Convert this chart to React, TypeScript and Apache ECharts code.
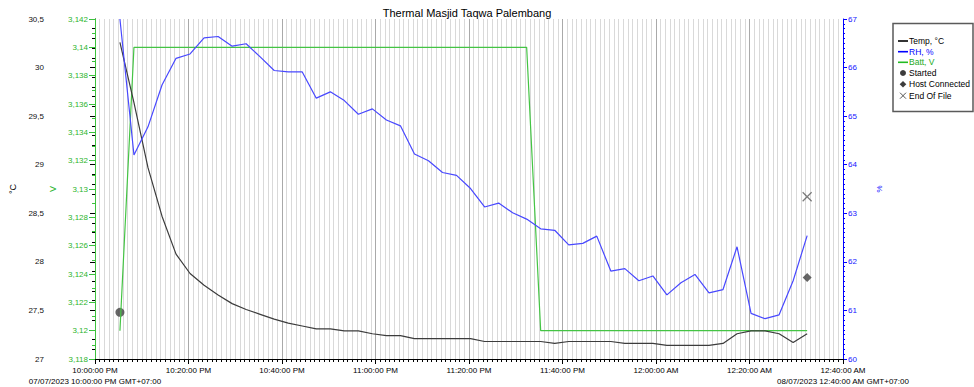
import React, { useEffect, useRef } from "react";
import * as echarts from "echarts";

const TITLE = "Thermal Masjid Taqwa Palembang";

// logging times (HH:MM:SS), 07/07/2023 22:00 -> 08/07/2023 00:40
const times = [
  "22:05:20", "22:08:20", "22:11:20", "22:14:20", "22:17:20", "22:20:20", "22:23:20", "22:26:20", "22:29:20", "22:32:20",
  "22:35:20", "22:38:20", "22:41:20", "22:44:20", "22:47:20", "22:50:20", "22:53:20", "22:56:20", "22:59:20", "23:02:20",
  "23:05:20", "23:08:20", "23:11:20", "23:14:20", "23:17:20", "23:20:20", "23:23:20", "23:26:20", "23:29:20", "23:32:20",
  "23:35:20", "23:38:20", "23:41:20", "23:44:20", "23:47:20", "23:50:20", "23:53:20", "23:56:20", "23:59:20", "00:02:20",
  "00:05:20", "00:08:20", "00:11:20", "00:14:20", "00:17:20", "00:20:20", "00:23:20", "00:26:20", "00:29:20", "00:32:20",
];

const tempC = [
  30.26, 29.64, 28.97, 28.47, 28.08, 27.88, 27.76, 27.66, 27.57, 27.51,
  27.46, 27.41, 27.37, 27.34, 27.31, 27.31, 27.29, 27.29, 27.26, 27.24,
  27.24, 27.21, 27.21, 27.21, 27.21, 27.21, 27.18, 27.18, 27.18, 27.18,
  27.18, 27.16, 27.18, 27.18, 27.18, 27.18, 27.16, 27.16, 27.16, 27.14,
  27.14, 27.14, 27.14, 27.16, 27.26, 27.29, 27.29, 27.26, 27.17, 27.26,
];

const rhPct = [
  67.0, 64.2, 64.78, 65.64, 66.19, 66.28, 66.61, 66.64, 66.44, 66.49,
  66.22, 65.94, 65.91, 65.91, 65.37, 65.5, 65.32, 65.04, 65.15, 64.92,
  64.8, 64.22, 64.08, 63.84, 63.78, 63.51, 63.13, 63.21, 63.01, 62.88,
  62.68, 62.65, 62.35, 62.38, 62.53, 61.81, 61.86, 61.61, 61.71, 61.32,
  61.57, 61.74, 61.36, 61.43, 62.31, 60.94, 60.83, 60.91, 61.61, 62.54,
];

const battV = [
  3.12, 3.14, 3.14, 3.14, 3.14, 3.14, 3.14, 3.14, 3.14, 3.14,
  3.14, 3.14, 3.14, 3.14, 3.14, 3.14, 3.14, 3.14, 3.14, 3.14,
  3.14, 3.14, 3.14, 3.14, 3.14, 3.14, 3.14, 3.14, 3.14, 3.14,
  3.12, 3.12, 3.12, 3.12, 3.12, 3.12, 3.12, 3.12, 3.12, 3.12,
  3.12, 3.12, 3.12, 3.12, 3.12, 3.12, 3.12, 3.12, 3.12, 3.12,
];

const eventNames = ["Started", "Host Connected", "End Of File"];
const eventTimes = ["22:05:20", "00:32:20", "00:32:20"];
const eventTemps = [27.48, 27.84, 28.67];

const xTickLabels = [
  "10:00:00 PM", "10:20:00 PM", "10:40:00 PM", "11:00:00 PM", "11:20:00 PM",
  "11:40:00 PM", "12:00:00 AM", "12:20:00 AM", "12:40:00 AM",
];
const startDateLabel = "07/07/2023 10:00:00 PM GMT+07:00";
const endDateLabel = "08/07/2023 12:40:00 AM GMT+07:00";

const legendLabels = ["Temp, °C", "RH, %", "Batt, V", "Started", "Host Connected", "End Of File"];

const FONT = "Liberation Sans, Arial, sans-serif";
const C_TEMP = "#3c3c3c";
const C_RH = "#4848ff";
const C_BATT = "#44c444";
const C_GREEN_TXT = "#2db52d";
const C_BLUE_TXT = "#1515ff";

function toMinutes(t: string): number {
  const [h, m, s] = t.split(":").map(Number);
  let v = h * 60 + m + s / 60 - 22 * 60;
  if (v < 0) v += 24 * 60;
  return v;
}

const comma = (v: number, d: number) => String(parseFloat(v.toFixed(d))).replace(".", ",");

export default function App() {
  const ref = useRef<HTMLDivElement>(null);
  useEffect(() => {
    if (!ref.current) return;
    const chart = echarts.init(ref.current, null, { renderer: "svg" });
    const xs = times.map(toMinutes);
    const legendRowY = [41, 51.7, 62.3, 73, 84.3, 95.7];
    const lx = 898;
    const tx = 909;
    const legendColors = ["#000000", "#0000ff", "#22aa22", "#000000", "#000000", "#000000"];
    const legendGraphics: any[] = [
      {
        type: "rect",
        shape: { x: 893, y: 23.5, width: 80, height: 88 },
        style: { fill: "#ffffff", stroke: "#5a5a5a", lineWidth: 1.5 },
      },
    ];
    [C_TEMP, "#0000ff", "#22bb22"].forEach((c, i) => {
      legendGraphics.push({
        type: "line",
        shape: { x1: lx, y1: legendRowY[i], x2: lx + 10, y2: legendRowY[i] },
        style: { stroke: c === C_TEMP ? "#000" : c, lineWidth: 1.6 },
      });
    });
    legendGraphics.push({
      type: "circle",
      shape: { cx: 903, cy: legendRowY[3], r: 3 },
      style: { fill: "#3c3c3c" },
    });
    legendGraphics.push({
      type: "polygon",
      shape: {
        points: [
          [903, legendRowY[4] - 3.3],
          [906.3, legendRowY[4]],
          [903, legendRowY[4] + 3.3],
          [899.7, legendRowY[4]],
        ],
      },
      style: { fill: "#3c3c3c" },
    });
    legendGraphics.push({
      type: "line",
      shape: { x1: 900, y1: legendRowY[5] - 3, x2: 906, y2: legendRowY[5] + 3 },
      style: { stroke: "#555", lineWidth: 1 },
    });
    legendGraphics.push({
      type: "line",
      shape: { x1: 906, y1: legendRowY[5] - 3, x2: 900, y2: legendRowY[5] + 3 },
      style: { stroke: "#555", lineWidth: 1 },
    });
    legendLabels.forEach((t, i) => {
      legendGraphics.push({
        type: "text",
        x: tx,
        y: legendRowY[i],
        style: {
          text: t,
          fill: legendColors[i],
          font: `8.5px ${FONT}`,
          textVerticalAlign: "middle",
          verticalAlign: "middle",
        },
      });
    });

    const option: any = {
      animation: false,
      backgroundColor: "#ffffff",
      textStyle: { fontFamily: FONT },
      grid: { left: 93, right: 131, top: 19, bottom: 28 },
      xAxis: {
        type: "value",
        min: 0,
        max: 160,
        interval: 20,
        axisLine: { show: true, onZero: false, lineStyle: { color: "#000", width: 1 } },
        axisTick: { show: true, length: 5, lineStyle: { color: "#000" } },
        minorTick: { show: true, splitNumber: 20, length: 3, lineStyle: { color: "#000" } },
        splitLine: { show: true, lineStyle: { color: "#a9a9a9", width: 1 } },
        minorSplitLine: { show: true, lineStyle: { color: "#d9d9d9", width: 1 } },
        axisLabel: {
          fontSize: 8,
          color: "#000",
          margin: 6,
          lineHeight: 11,
          fontFamily: FONT,
          formatter: (v: number) => {
            const idx = Math.round(v / 20);
            const base = xTickLabels[idx] ?? "";
            if (idx === 0) return base + "\n" + startDateLabel;
            if (idx === xTickLabels.length - 1) return base + "\n" + endDateLabel;
            return base;
          },
        },
      },
      yAxis: [
        {
          type: "value",
          position: "left",
          offset: 45,
          min: 27,
          max: 30.5,
          interval: 0.5,
          name: "°C",
          nameLocation: "middle",
          nameGap: 33,
          nameRotate: 90,
          nameTextStyle: { fontSize: 9, color: "#000", fontFamily: FONT },
          axisLine: { show: true, lineStyle: { color: "#000" } },
          axisTick: { show: true, length: 5, lineStyle: { color: "#000" } },
          minorTick: { show: true, splitNumber: 5, length: 3, lineStyle: { color: "#000" } },
          splitLine: { show: false },
          axisLabel: { fontSize: 8, color: "#111", margin: 6, fontFamily: FONT, formatter: (v: number) => comma(v, 1) },
        },
        {
          type: "value",
          position: "left",
          offset: 0,
          min: 3.118,
          max: 3.142,
          interval: 0.002,
          name: "V",
          nameLocation: "middle",
          nameGap: 34,
          nameRotate: 90,
          nameTextStyle: { fontSize: 9, color: C_GREEN_TXT, fontFamily: FONT },
          axisLine: { show: true, lineStyle: { color: "#3cc03c" } },
          axisTick: { show: true, length: 6, lineStyle: { color: "#3cc03c" } },
          minorTick: { show: true, splitNumber: 2, length: 3, lineStyle: { color: "#3cc03c" } },
          splitLine: { show: false },
          axisLabel: { fontSize: 8, color: C_GREEN_TXT, margin: 7, fontFamily: FONT, formatter: (v: number) => comma(v, 3) },
        },
        {
          type: "value",
          position: "right",
          offset: 0,
          min: 60,
          max: 67,
          interval: 1,
          name: "%",
          nameLocation: "middle",
          nameGap: 32,
          nameRotate: 90,
          nameTextStyle: { fontSize: 8, color: C_BLUE_TXT, fontFamily: FONT },
          axisLine: { show: true, lineStyle: { color: "#0000ff" } },
          axisTick: { show: true, length: 4, lineStyle: { color: "#0000ff" } },
          minorTick: { show: true, splitNumber: 10, length: 2, lineStyle: { color: "#0000ff" } },
          splitLine: { show: false },
          axisLabel: { fontSize: 8, color: C_BLUE_TXT, margin: 5, fontFamily: FONT },
        },
      ],
      series: [
        {
          name: "Batt, V",
          type: "line",
          yAxisIndex: 1,
          symbol: "none",
          lineStyle: { color: C_BATT, width: 1.2 },
          data: xs.map((x, i) => [x, battV[i]]),
        },
        {
          name: "Temp, °C",
          type: "line",
          yAxisIndex: 0,
          symbol: "none",
          lineStyle: { color: C_TEMP, width: 1.2 },
          data: xs.map((x, i) => [x, tempC[i]]),
        },
        {
          name: "RH, %",
          type: "line",
          yAxisIndex: 2,
          symbol: "none",
          lineStyle: { color: C_RH, width: 1.2 },
          data: xs.map((x, i) => [x, rhPct[i]]),
        },
        {
          name: eventNames[0],
          type: "scatter",
          yAxisIndex: 0,
          symbol: "circle",
          symbolSize: 9,
          itemStyle: { color: "#404040" },
          data: [[toMinutes(eventTimes[0]), eventTemps[0]]],
        },
        {
          name: eventNames[1],
          type: "scatter",
          yAxisIndex: 0,
          symbol: "diamond",
          symbolSize: 9,
          itemStyle: { color: "#404040" },
          data: [[toMinutes(eventTimes[1]), eventTemps[1]]],
        },
        {
          name: eventNames[2],
          type: "scatter",
          yAxisIndex: 0,
          symbol: "path://M0,0L10,10M10,0L0,10",
          symbolSize: 9,
          itemStyle: { color: "transparent", borderColor: "#5a5a5a", borderWidth: 1.2 },
          data: [[toMinutes(eventTimes[2]), eventTemps[2]]],
        },
      ],
      graphic: [
        {
          type: "text",
          x: 467,
          y: 13,
          style: {
            text: TITLE,
            fill: "#000",
            font: `11px ${FONT}`,
            textAlign: "center",
            align: "center",
            textVerticalAlign: "middle",
            verticalAlign: "middle",
          },
        },
        ...legendGraphics,
      ],
    };
    chart.setOption(option);
    return () => chart.dispose();
  }, []);
  return (
    <div
      ref={ref}
      style={{ position: "fixed", left: 0, top: 0, width: 974, height: 387, background: "#fff" }}
    />
  );
}
